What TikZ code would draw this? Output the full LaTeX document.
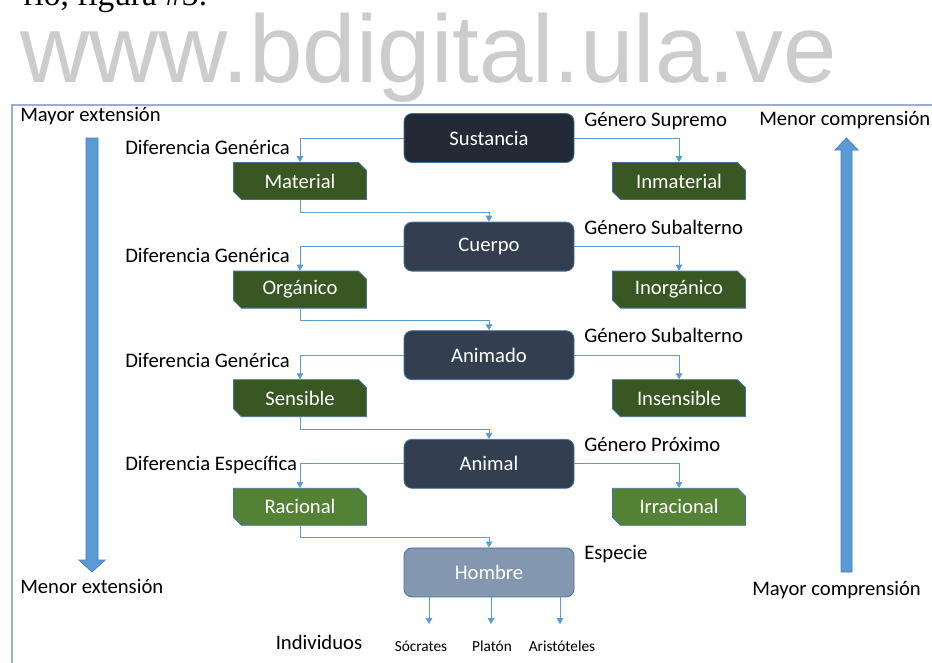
\documentclass[tikz,border=0pt]{standalone}
\usepackage{fontspec}
\setmainfont{Carlito}
\newfontfamily\markfont{Liberation Sans}
\newfontfamily\capfont{Liberation Serif}
\usetikzlibrary{arrows.meta,shapes.misc}
\definecolor{linkblue}{RGB}{91,155,213}
\definecolor{bigblue}{RGB}{91,155,213}
\definecolor{bigedge}{RGB}{65,130,195}
\definecolor{frameblue}{RGB}{150,175,210}
\definecolor{boxedge}{RGB}{65,113,156}
\definecolor{supremo}{RGB}{34,42,53}
\definecolor{genus}{RGB}{51,63,80}
\definecolor{species}{RGB}{132,151,176}
\definecolor{diffdark}{RGB}{56,87,35}
\definecolor{difflight}{RGB}{84,130,53}
\definecolor{markgray}{RGB}{204,204,204}
\tikzset{
	every genus/.style={
		rectangle,
		rounded corners=6pt,
		draw=boxedge,
		line width=0.6pt,
		fill=genus,
		minimum width=127.5pt,
		minimum height=36.75pt,
		text=white,
		font=\fontsize{15.5}{17}\selectfont
	},
	genus 1/.style={fill=supremo},
	genus 5/.style={fill=species},
	every diff/.style={
		chamfered rectangle,
		chamfered rectangle corners={north east,south west},
		chamfered rectangle xsep=3pt,
		chamfered rectangle ysep=3pt,
		draw=boxedge,
		line width=0.6pt,
		fill=diffdark,
		minimum width=99.75pt,
		minimum height=27.75pt,
		inner sep=0pt,
		text=white,
		font=\fontsize{15.5}{17}\selectfont
	},
	diff 4/.style={fill=difflight},
	tag/.style={inner sep=0pt, font=\fontsize{15.5}{17}\selectfont},
	small tag/.style={inner sep=0pt, font=\fontsize{11.5}{13}\selectfont},
	link/.style={draw=linkblue, line width=0.6pt, -{Triangle[length=4.5pt,width=5pt]}},
	big arrow/.style={fill=bigblue, draw=bigedge, line width=0.6pt},
}
\begin{document}
\begin{tikzpicture}[x=0.75pt, y=-0.75pt]
\clip (0,0) rectangle (932,662);

% marca de agua y texto cortado arriba
\node [anchor=base west, inner sep=0pt, text=markgray, font=\markfont\fontsize{72}{80}\selectfont] (mark) at (20,82) {www.bdigital.ula.ve};
\node [anchor=base east, inner sep=0pt, font=\capfont\fontsize{25}{28}\selectfont] (caption) at (208,5) {rio, figura \#3:};

\draw [frameblue, line width=0.8pt] (12,105) rectangle (950,690);

% generos
\foreach \m [count=\y] in {Sustancia,Cuerpo,Animado,Animal,Hombre}
	\node [every genus/.try, genus \y/.try] (genus-\y) at (489,{138+108.6*(\y-1)}) {\m};

% diferencias
\foreach \m [count=\y] in {Material,Orgánico,Sensible,Racional}
	\node [every diff/.try, diff \y/.try] (left-\y) at (300,{181+108.6*(\y-1)}) {\m};

\foreach \m [count=\y] in {Inmaterial,Inorgánico,Insensible,Irracional}
	\node [every diff/.try, diff \y/.try] (right-\y) at (679,{181+108.6*(\y-1)}) {\m};

\foreach \i [count=\j from 2] in {1,...,4} {
	\draw [link] (genus-\i.west) -| (left-\i.north);
	\draw [link] (genus-\i.east) -| (right-\i.north);
	\draw [link] (left-\i.south) -- ++(0,12) -| (genus-\j.north);
}

% etiquetas
\foreach \l [count=\y] in {Género Supremo,Género Subalterno,Género Subalterno,Género Próximo,Especie}
	\node [tag, anchor=mid west] (genus-label-\y) at (584,{123+108.3*(\y-1)}) {\l};

\foreach \l/\yy [count=\y] in {Diferencia Genérica/151,Diferencia Genérica/259,Diferencia Genérica/364,Diferencia Específica/467}
	\node [tag, anchor=mid west] (diff-label-\y) at (125,\yy) {\l};

% individuos
\foreach \l/\xa/\xl [count=\i] in {Sócrates/429/421,Platón/491/492,Aristóteles/560/562} {
	\coordinate (ind-end-\i) at (\xa,624);
	\draw [link] (ind-end-\i |- genus-5.south) -- (ind-end-\i);
	\node [small tag] (ind-\i) at (\xl,646) {\l};
}
\node [tag] (individuos) at (319,642) {Individuos};

% extension y comprension
\node [tag, anchor=mid west] (ext-top) at (20,118) {Mayor extensión};
\node [tag, anchor=mid west] (ext-bot) at (20,590) {Menor extensión};
\node [tag, anchor=mid west] (comp-top) at (759,122) {Menor comprensión};
\node [tag, anchor=mid west] (comp-bot) at (752,592) {Mayor comprensión};

\draw [big arrow] (86,138) -- (98,138) -- (98,560) -- (105,560) -- (92,572) -- (79,560) -- (86,560) -- cycle;
\draw [big arrow] (841,572) -- (852,572) -- (852,150) -- (858,150) -- (846.5,138) -- (835,150) -- (841,150) -- cycle;

\end{tikzpicture}
\end{document}
